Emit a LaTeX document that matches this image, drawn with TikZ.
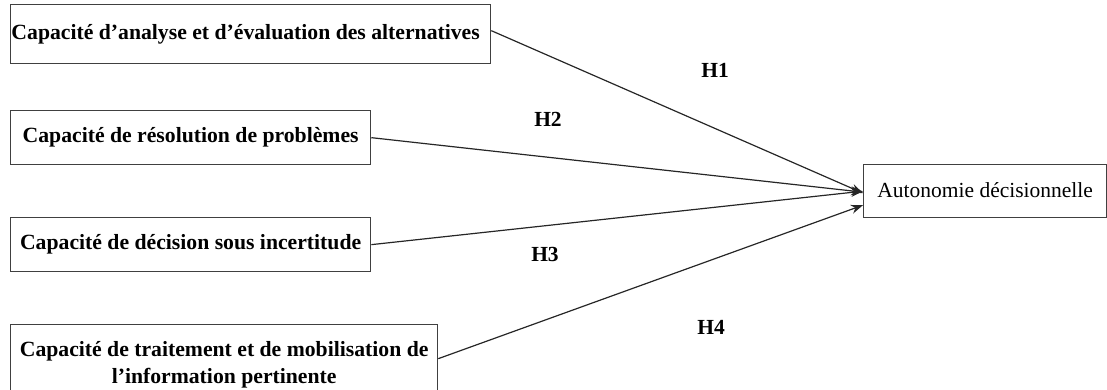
\documentclass[tikz,border=0pt]{standalone}
\usepackage{fontspec}
\setmainfont{Liberation Serif}
\usetikzlibrary{arrows.meta}
\begin{document}
\begin{tikzpicture}[x=1pt,y=-1pt,
  box/.style={draw=black!75,line width=1.3pt,anchor=north west,inner sep=0pt,align=center,font=\fontsize{21.7}{27}\selectfont\bfseries},
  tbox/.style={draw=black!75,line width=1.3pt,anchor=north west,inner sep=0pt,align=center,font=\fontsize{21.5}{27}\selectfont},
  hyp/.style={font=\fontsize{21.5}{27}\selectfont\bfseries,inner sep=0pt},
  link/.style={draw=black!85,line width=1.2pt,-{Stealth[length=12pt,width=9pt]}}]
\useasboundingbox (0,0) rectangle (1107,389);
\begin{scope}
\clip (0,0) rectangle (1107,389);
\node[box,minimum width=480pt,minimum height=59pt] (b1) at (10,4) {\raisebox{3pt}{Capacité d’analyse et d’évaluation des alternatives}\hspace*{10pt}};
\node[box,minimum width=360pt,minimum height=54pt] (b2) at (10,110) {Capacité de résolution de problèmes};
\node[box,minimum width=360pt,minimum height=54pt] (b3) at (10,217) {Capacité de décision sous incertitude};
\node[box,minimum width=427pt,minimum height=80pt] (b4) at (10,324) {Capacité de traitement et de mobilisation de\\l’information pertinente};
\node[tbox,minimum width=243pt,minimum height=53pt] (t) at (863,164) {\raisebox{3pt}{Autonomie décisionnelle}};
\end{scope}
\draw[link] ([yshift=3.5pt]b1.east) -- ([yshift=-2pt]t.west);
\draw[link] (b2.east) -- ([yshift=-1pt]t.west);
\draw[link] (b3.east) -- ([yshift=0pt]t.west);
\draw[link] ([yshift=6pt]b4.east) -- ([yshift=-14pt]t.west);
\node[hyp] (h1) at (715,70) {H1};
\node[hyp] (h2) at (548,119) {H2};
\node[hyp] (h3) at (545,254) {H3};
\node[hyp] (h4) at (711,327) {H4};
\end{tikzpicture}
\end{document}
